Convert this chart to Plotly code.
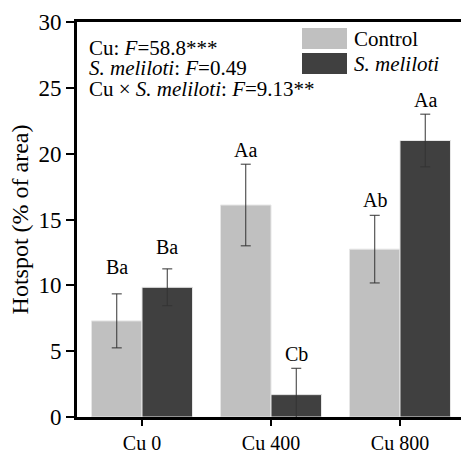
import plotly.graph_objects as go

# Hotspot area by copper level and inoculation
categories = ["Cu 0", "Cu 400", "Cu 800"]
control_mean = [7.3, 16.1, 12.75]
control_err = [2.05, 3.1, 2.57]
smel_mean = [9.85, 1.7, 21.0]
smel_err = [1.4, 2.0, 2.0]
control_letters = ["Ba", "Aa", "Ab"]
smel_letters = ["Ba", "Cb", "Aa"]
y_ticks = [0, 5, 10, 15, 20, 25, 30]

FONT = "'Times New Roman', 'Liberation Serif', Times, serif"
LIGHT = "#c0c0c0"
DARK = "#404040"
ERR = "#333333"

fig = go.Figure()
fig.add_trace(go.Bar(
    x=categories, y=control_mean, name="Control",
    marker=dict(color=LIGHT, line=dict(color="#e6e6e6", width=1)),
    error_y=dict(type="data", array=control_err, color=ERR, thickness=1, width=5),
))
fig.add_trace(go.Bar(
    x=categories, y=smel_mean, name="S. meliloti",
    marker=dict(color=DARK, line=dict(color="#e6e6e6", width=1)),
    error_y=dict(type="data", array=smel_err, color=ERR, thickness=1, width=5),
))

# significance letters above the error bars
annotations = []
ctrl_shift = [27, 14, 15]
smel_shift = [22, 14, 14]
for i, cat in enumerate(categories):
    annotations.append(dict(
        x=i - 0.195, y=control_mean[i] + control_err[i], xref="x", yref="y",
        text=control_letters[i], showarrow=False, yanchor="middle",
        yshift=ctrl_shift[i], font=dict(family=FONT, size=20, color="black")))
    annotations.append(dict(
        x=i + 0.195, y=smel_mean[i] + smel_err[i], xref="x", yref="y",
        text=smel_letters[i], showarrow=False, yanchor="middle",
        yshift=smel_shift[i], font=dict(family=FONT, size=20, color="black")))

# two-way ANOVA summary
stats_lines = [
    "Cu: <i>F</i>=58.8***",
    "<i>S. meliloti</i>: <i>F</i>=0.49",
    "Cu × <i>S. meliloti</i>: <i>F</i>=9.13**",
]
stats_y = [47.5, 68, 88.5]
for txt, ypx in zip(stats_lines, stats_y):
    annotations.append(dict(
        x=87, y=455 - ypx, xref="paper", yref="paper", text=txt,
        showarrow=False, xanchor="left", yanchor="middle",
        font=dict(family=FONT, size=21, color="black")))

# legend drawn with large swatches
shapes = []
legend_items = [("Control", LIGHT, 38.5), ("<i>S. meliloti</i>", DARK, 63.5)]
for label, color, ypx in legend_items:
    shapes.append(dict(type="rect", xref="paper", yref="paper",
                       x0=302, x1=347, y0=455 - ypx - 10.5, y1=455 - ypx + 10.5,
                       fillcolor=color, line=dict(width=0)))
    annotations.append(dict(
        x=352, y=455 - ypx, xref="paper", yref="paper", text=label,
        showarrow=False, xanchor="left", yanchor="middle",
        font=dict(family=FONT, size=21, color="black")))

# convert pixel placements to paper fractions
W, H = 461, 455
L, R, T, B = 77, 0, 22, 38
pw, ph = W - L - R, H - T - B
for a in annotations:
    if a["xref"] == "paper":
        a["x"] = (a["x"] - L) / pw
        a["y"] = (a["y"] - B) / ph
for s in shapes:
    s["x0"] = (s["x0"] - L) / pw
    s["x1"] = (s["x1"] - L) / pw
    s["y0"] = (s["y0"] - B) / ph
    s["y1"] = (s["y1"] - B) / ph

fig.update_layout(
    width=W, height=H,
    margin=dict(l=L, r=R, t=T, b=B, autoexpand=False),
    paper_bgcolor="white", plot_bgcolor="white",
    barmode="group", bargap=0.217, bargroupgap=0,
    showlegend=False,
    font=dict(family=FONT, color="black"),
    annotations=annotations, shapes=shapes,
)
fig.update_xaxes(
    range=[-0.504, 2.473], showline=True, linecolor="black", linewidth=3,
    mirror=True, ticks="outside", ticklen=6, tickwidth=2, tickcolor="black",
    tickfont=dict(family=FONT, size=20), showgrid=False, zeroline=False,
    automargin=False,
)
fig.update_yaxes(
    range=[0, 30], tickvals=y_ticks, showline=True, linecolor="black",
    linewidth=3, ticks="outside", ticklen=8, tickwidth=2, tickcolor="black",
    tickfont=dict(family=FONT, size=23), showgrid=False, zeroline=False,
    automargin=False,
    title=dict(text="Hotspot (% of area)", font=dict(family=FONT, size=24),
               standoff=4),
)

fig.write_html("out.html")
